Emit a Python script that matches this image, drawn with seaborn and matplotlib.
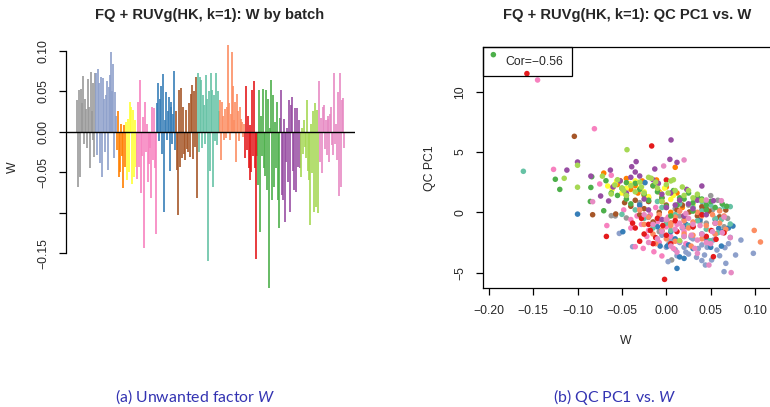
import numpy as np
import pandas as pd
import matplotlib
matplotlib.use("Agg")
import matplotlib.pyplot as plt
import seaborn as sns
from matplotlib.patches import Rectangle

sns.set_style("white")
plt.rcParams['font.family'] = ['Liberation Sans', 'DejaVu Sans']
plt.rcParams['mathtext.fontset'] = 'custom'
plt.rcParams['mathtext.rm'] = 'Lato'
plt.rcParams['mathtext.it'] = 'Lato:italic'

# ---------------- data ----------------
batches = ["B01", "B02", "B03", "B04", "B05", "B06", "B07",
           "B08", "B09", "B10", "B11", "B12", "B13", "B14"]
batch_colors = ["#999999", "#8DA0CB", "#FF7F00", "#FFFF33", "#F781BF", "#377EB8", "#A65628",
                "#66C2A5", "#FC8D62", "#E41A1C", "#4DAF4A", "#984EA3", "#A6D854", "#E78AC3"]

# W per sample, by batch (left panel)
w_b01 = [0.039, -0.068, 0.051, -0.056, 0.053, 0.035, 0.069, -0.015, 0.040, 0.028,
         -0.020, 0.065, 0.030, -0.045, 0.074, 0.025, -0.010, 0.060, -0.031, 0.072]
w_b02 = [0.072, -0.029, 0.078, 0.060, -0.039, 0.068, -0.056, 0.066, 0.040, -0.025,
         0.045, 0.062, -0.047, 0.055, 0.070, 0.098, 0.050, 0.083, -0.033, 0.049, 0.020]
w_b03 = [-0.023, 0.025, -0.056, -0.050, 0.010, -0.030, -0.070, 0.008, -0.043]
w_b04 = [0.012, -0.060, 0.016, -0.050, 0.037, 0.031, -0.064, 0.027, -0.056, 0.014, -0.043]
w_b05 = [-0.058, 0.037, -0.043, 0.064, -0.076, -0.030, 0.018, -0.144, 0.037, -0.025,
         0.010, -0.062, -0.040, -0.020, -0.082, 0.031, -0.035, 0.029, -0.045, -0.126]
w_b06 = [0.035, 0.060, -0.012, 0.040, 0.056, -0.027, 0.071, -0.099, 0.015, 0.049,
         -0.010, 0.025, 0.043, -0.049, 0.037, 0.030, -0.015, 0.022, 0.075, -0.023]
w_b07 = [0.025, -0.047, -0.103, 0.051, -0.043, 0.054, -0.033, 0.030, -0.028, -0.035, 0.027,
         -0.021, -0.025, 0.035, -0.031, 0.047, 0.058, -0.034, 0.050, -0.019, 0.068, -0.082]
w_b08 = [0.073, -0.025, 0.068, 0.064, -0.020, 0.045, 0.033, -0.015, 0.070, 0.040, -0.160,
         0.050, -0.049, 0.073, 0.052, -0.068, 0.045, -0.012, 0.072, -0.016, 0.050, 0.025]
w_b09 = [0.039, -0.035, 0.037, 0.020, -0.010, 0.028, -0.008, 0.030, 0.107, 0.035, -0.010,
         0.022, 0.099, 0.056, 0.015, 0.037, -0.037, 0.047, 0.025, -0.012, 0.031, 0.016,
         0.012, -0.006, 0.010]
w_b10 = [-0.033, 0.056, -0.022, 0.020, -0.045, -0.060, 0.008, -0.050, 0.051, -0.030,
         0.063, -0.045, -0.157, -0.030]
w_b11 = [-0.066, 0.051, -0.124, 0.020, -0.030, 0.053, -0.045, -0.055, 0.052, -0.072, 0.040,
         -0.193, 0.005, 0.064, -0.084, 0.045, -0.068, 0.012, -0.045, 0.037, -0.084, -0.119, 0.017]
w_b12 = [0.051, -0.078, -0.084, 0.016, -0.111, -0.037, 0.004, -0.062, 0.039, -0.099,
         0.033, 0.043, -0.049, -0.072, 0.029, -0.074, 0.029, -0.043, 0.014, -0.045]
w_b13 = [-0.056, 0.004, -0.027, 0.014, -0.019, -0.033, 0.039, -0.049, -0.060, -0.115,
         0.010, -0.051, 0.025, -0.099, 0.035, -0.093, 0.027, -0.101]
w_b14 = [0.062, -0.037, 0.017, -0.051, 0.031, 0.033, -0.021, 0.014, -0.029, 0.016, 0.020,
         -0.037, 0.022, 0.031, -0.016, -0.029, 0.072, -0.015, 0.010, -0.035, 0.049, -0.080,
         0.073, -0.068, 0.039, 0.041, -0.020]
w_by_batch = [w_b01, w_b02, w_b03, w_b04, w_b05, w_b06, w_b07,
              w_b08, w_b09, w_b10, w_b11, w_b12, w_b13, w_b14]

# QC PC1 vs W (right panel), by batch
sx_b01 = [-0.0575, -0.045, 0.006, 0.060, 0.069, 0.050, 0.034, -0.062, 0.020, 0.010, -0.010, 0.040, 0.028, -0.020, 0.065, 0.045,
          -0.030, 0.000, 0.015, 0.025, 0.038, 0.052, -0.008, 0.058, 0.044, 0.003]
sy_b01 = [-0.30, -0.47, -3.95, -0.36, -0.50, 1.38, 1.21, -0.28, -1.2, 0.3, -0.6, 0.2, -2.0, 0.9, -1.2, -0.9,
          0.8, 0.4, -0.3, 0.6, -0.8, 0.2, -1.6, 1.0, 0.9, -2.6]
sx_b02 = [-0.053, -0.038, 0.002, 0.025, 0.034, 0.043, 0.044, 0.051, 0.057, 0.066, 0.065, 0.067, 0.078,
          0.084, 0.098, 0.072, 0.015, 0.030, 0.040, 0.055, 0.010, 0.062, 0.020, -0.005, 0.048,
          0.005, 0.012, 0.022, 0.028, 0.036, 0.046, 0.053, 0.060, 0.070, 0.018, 0.000, 0.040]
sy_b02 = [-1.75, -2.85, -4.09, -3.46, -3.73, -3.54, -4.37, -3.95, -3.13, -2.93, -4.92, -4.23, -3.54,
          -2.30, -3.40, -2.08, -2.5, -2.2, -2.7, -1.8, -3.1, -1.6, -2.9, -1.9, -2.4,
          -2.3, -3.6, -3.3, -2.1, -3.0, -2.9, -2.3, -3.6, -2.6, -1.3, -2.9, -4.0]
sx_b03 = [-0.0705, 0.010, -0.052, -0.011, -0.027, -0.040, -0.020, -0.005, 0.005, -0.060, -0.032, 0.018,
          -0.045, -0.035, -0.015, -0.008, 0.000, 0.012, -0.025, -0.055]
sy_b03 = [3.25, 3.73, 2.62, 2.68, 2.60, 1.9, 1.2, 0.9, 0.0, 2.1, 1.6, 0.4,
          2.8, 2.2, 2.2, 1.7, 2.1, 1.6, 1.4, 2.3]
sx_b04 = [-0.061, -0.066, -0.041, -0.050, -0.006, 0.005, -0.030, -0.020, 0.015, -0.056, 0.030,
          -0.045, -0.035, -0.025, -0.012, -0.002, 0.008, -0.058]
sy_b04 = [1.9, 2.18, 2.38, 1.6, 1.57, 1.07, 2.0, 1.3, 0.8, 2.6, 0.6,
          2.0, 2.6, 1.7, 2.4, 2.0, 1.4, 2.3]
sx_b05 = [-0.145, -0.127, -0.081, -0.062, -0.075, -0.067, -0.035, -0.026, -0.014, -0.005,
          -0.020, -0.010, 0.000, 0.005, -0.030, 0.010, 0.020, -0.040, 0.015,
          -0.048, -0.040, -0.028, -0.018, -0.008, 0.002, 0.012, 0.022, -0.022, -0.012, 0.008, -0.033]
sy_b05 = [10.97, 3.56, 6.93, 3.07, 2.35, -1.1, -2.85, -2.99, -3.27, -3.62,
          -1.5, -0.8, -1.2, -2.0, 0.5, -0.3, -1.6, -0.6, -2.4,
          0.2, -1.3, -1.0, -0.2, -2.5, -0.4, -1.0, -2.6, -2.0, 0.4, -3.0, -0.3]
sx_b06 = [-0.100, -0.049, 0.012, 0.020, 0.059, 0.075, -0.024, -0.007, 0.001, 0.015, 0.030,
          0.045, -0.030, 0.050, 0.070, -0.020, 0.038, 0.064,
          -0.010, 0.005, 0.022, 0.040, 0.055, 0.010, 0.025, 0.062]
sy_b06 = [-0.15, -1.61, -4.65, -3.82, -1.33, -1.14, 2.46, -2.8, -2.8, -3.7, -3.0,
          -2.2, 0.6, -2.9, -1.3, -0.4, -0.6, -1.6,
          -1.2, -1.6, -1.0, -1.8, -0.6, -2.2, -2.7, -2.8]
sx_b07 = [-0.1036, -0.083, -0.057, 0.067, -0.047, 0.040, 0.026, -0.005, 0.010, -0.025, 0.055,
          -0.015, 0.030, 0.000, -0.035, 0.048,
          -0.040, -0.020, -0.008, 0.005, 0.018, 0.035, 0.045, 0.060, -0.030, 0.012]
sy_b07 = [6.3, -0.2, -0.14, 0.19, 0.8, 0.47, 0.03, -1.55, -0.3, 0.3, -0.9, -0.8, -1.2, 0.6, 1.0, 0.1,
          0.5, 0.9, 0.0, -0.9, 0.6, -0.3, 0.3, -0.4, -0.2, 0.2]
sx_b08 = [-0.161, -0.050, 0.072, 0.072, 0.049, 0.020, 0.040, 0.010, -0.015, 0.030, 0.060,
          0.055, 0.000, -0.025, 0.045, 0.015, 0.065,
          -0.035, -0.005, 0.005, 0.025, 0.035, 0.050, 0.062, 0.020, -0.010, 0.040, 0.058]
sy_b08 = [3.4, -0.17, 0.47, -0.97, -2.35, -0.58, 0.9, -0.2, -1.3, 0.4, 0.2, -0.5, -0.9, -0.5, -1.4, 0.7, 0.5,
          0.2, 0.4, -1.5, -1.1, -0.7, 0.6, -0.6, -2.0, 0.9, 0.1, -1.7]
sx_b09 = [0.099, 0.106, 0.067, 0.060, 0.020, -0.005, 0.030, 0.045, 0.010, -0.020, 0.040,
          0.052, -0.030, 0.000, 0.025, 0.015, 0.035, 0.055, -0.012, 0.005, 0.065,
          -0.025, -0.015, 0.000, 0.010, 0.020, 0.030, 0.040, 0.050, 0.005, 0.028, 0.060, -0.008]
sy_b09 = [-1.5, -2.46, -1.41, 0.11, -1.8, -1.5, -0.8, -1.1, -2.4, -0.4, -2.2,
          -0.2, 0.2, -0.6, -1.3, 0.1, 0.0, -1.8, -2.6, -0.9, -0.3,
          -1.0, -1.8, -2.2, -0.4, -0.7, -1.9, -0.3, -1.5, -1.1, -2.8, -0.9, -0.2]
sx_b10 = [-0.157, -0.0165, -0.0675, -0.002, 0.053, 0.056, 0.051, 0.000, -0.020, -0.025,
          -0.030, -0.015, -0.010, 0.000, -0.035, 0.065, -0.045, 0.010, -0.005, 0.040,
          -0.028, -0.018, -0.012, -0.004, 0.005, 0.020, 0.030, 0.045, -0.038, 0.012]
sy_b10 = [11.5, 5.5, -2.0, -5.56, -3.68, -2.24, -1.52, 2.68, -1.0, -1.8,
          -2.4, -2.6, -0.5, -1.9, -1.3, -1.7, 1.4, -0.7, 1.2, -0.2,
          -0.5, -1.5, -2.1, -1.1, -2.6, -0.3, -1.2, -2.0, -0.9, -1.6]
sx_b11 = [-0.1948, -0.125, -0.120, -0.0856, -0.085, -0.084, -0.0705, -0.068, -0.045, 0.063,
          -0.055, -0.030, -0.020, -0.010, 0.000, 0.015, 0.030, 0.045, 0.055, -0.040, 0.005,
          0.025, -0.062, 0.040,
          -0.050, -0.035, -0.025, -0.015, -0.005, 0.008, 0.020, 0.035, 0.050, 0.068, -0.045, 0.012, 0.045, 0.030]
sy_b11 = [13.07, 2.74, 1.9, 0.9, 2.06, 2.95, 0.13, 2.62, 2.46, 0.69,
          1.4, 1.9, 1.0, 1.7, 0.5, 1.2, 0.8, 0.2, 0.4, 0.7, -0.3, 1.6, 1.6, 1.1,
          2.0, 2.4, 1.5, 2.2, 1.2, 1.8, 1.1, 1.3, 0.9, 0.5, 1.1, 0.6, 0.6, 0.1]
sx_b12 = [-0.112, -0.100, -0.085, 0.0053, 0.004, 0.012, -0.034, -0.039, -0.013, -0.035, -0.063,
          -0.030, -0.009, 0.040, -0.074, -0.065, 0.053, 0.023, -0.045, -0.020, 0.010, 0.030, -0.005,
          -0.052, -0.040, -0.025, -0.015, -0.005, 0.005, 0.015, 0.025, 0.035, 0.045, -0.060, 0.000, 0.020]
sy_b12 = [3.5, 4.17, 3.0, 6.0, 4.39, 4.14, 4.2, 3.78, 3.59, 3.34, 3.5,
          3.01, 2.4, 2.18, 1.35, 0.94, 0.96, 1.9, 1.6, 0.2, 0.6, 0.3, -0.6,
          2.6, 2.9, 1.1, 2.7, 1.5, 1.6, 1.0, 0.7, 1.0, -0.2, 2.1, 0.4, -0.3]
sx_b13 = [-0.0443, -0.115, -0.100, -0.100, -0.072, -0.017, -0.058, -0.062, -0.050, -0.040,
          -0.030, -0.025, -0.010, 0.000, 0.010, 0.020, 0.030, -0.005, 0.015, -0.045, 0.005,
          -0.055, -0.048, -0.035, -0.020, -0.012, 0.002, 0.008, 0.018, 0.025, 0.035, -0.028, 0.040]
sy_b13 = [5.19, 2.82, 3.9, 2.08, 3.0, 2.82, 2.26, 1.52, 2.0, 2.2,
          2.5, 1.6, 2.0, 2.3, 1.8, 1.4, 1.2, 0.9, -2.35, 1.4, 2.6,
          2.7, 1.8, 1.7, 2.9, 2.5, 1.6, 2.7, 2.1, 1.8, 1.5, 2.1, 1.0]
sx_b14 = [0.020, -0.003, -0.083, 0.048, 0.073, 0.063, 0.032, 0.062, 0.045, 0.072, 0.030,
          0.020, 0.010, 0.040, 0.025, 0.050, 0.035, -0.010, 0.015, 0.055, -0.025,
          -0.015, -0.005, 0.005, 0.018, 0.028, 0.038, 0.052, 0.065, 0.012, 0.022, 0.035, 0.045, 0.000, -0.020]
sy_b14 = [4.34, 3.84, 0.88, -4.37, -5.0, -1.69, -2.99, 0.96, 1.02, -2.1, -1.0,
          -2.0, -1.4, -1.8, -0.5, -2.6, -2.3, -2.2, -0.9, -0.9, -0.2,
          -1.0, -1.6, -2.8, -1.2, -1.9, -1.1, -1.6, -0.4, -3.3, -0.1, -3.4, -2.5, -0.6, -2.5]
sx_by_batch = [sx_b01, sx_b02, sx_b03, sx_b04, sx_b05, sx_b06, sx_b07,
               sx_b08, sx_b09, sx_b10, sx_b11, sx_b12, sx_b13, sx_b14]
sy_by_batch = [sy_b01, sy_b02, sy_b03, sy_b04, sy_b05, sy_b06, sy_b07,
               sy_b08, sy_b09, sy_b10, sy_b11, sy_b12, sy_b13, sy_b14]

w_ticks = [-0.15, -0.10, -0.05, 0.00, 0.05, 0.10]
w_tick_labels = ["\u22120.15", "", "\u22120.05", "0.00", "0.05", "0.10"]
x_ticks_r = [-0.20, -0.15, -0.10, -0.05, 0.00, 0.05, 0.10]
y_ticks_r = [-5, 0, 5, 10]
cor_label = "Cor=\u22120.56"

# ---------------- frames ----------------
df_w = pd.DataFrame({
    "batch": np.concatenate([[b] * len(v) for b, v in zip(batches, w_by_batch)]),
    "W": np.concatenate(w_by_batch),
})
df_w["idx"] = np.arange(len(df_w))
pal = dict(zip(batches, batch_colors))
df_w["color"] = df_w["batch"].map(pal)

df_s = pd.DataFrame({
    "batch": np.concatenate([[b] * len(v) for b, v in zip(batches, sx_by_batch)]),
    "W": np.concatenate(sx_by_batch),
    "PC1": np.concatenate(sy_by_batch),
})

W_PX, H_PX = 770, 407
fig = plt.figure(figsize=(W_PX / 100, H_PX / 100), dpi=100)


def px_axes(l, t, r, b):
    return fig.add_axes([l / W_PX, 1 - b / H_PX, (r - l) / W_PX, (b - t) / H_PX])


def fmt(v, nd):
    return f"{v:.{nd}f}".replace("-", "\u2212")


TICK_FS = 8.8
# ---------------- left panel ----------------
axL = px_axes(66, 35, 355, 291)
axL.vlines(df_w["idx"], 0, df_w["W"], colors=df_w["color"], linewidth=1.2)
axL.axhline(0, color="black", linewidth=1.0)
N = len(df_w)
axL.set_xlim(-0.04 * (N - 1), 1.04 * (N - 1))
axL.set_ylim(-0.1967, 0.1194)
for s in ["top", "right", "bottom"]:
    axL.spines[s].set_visible(False)
axL.spines["left"].set_bounds(-0.15, 0.10)
axL.spines["left"].set_linewidth(0.9)
axL.spines["left"].set_color("black")
axL.set_xticks([])
axL.set_yticks(w_ticks)
axL.set_yticklabels(w_tick_labels)
axL.tick_params(axis="y", left=True, length=5, width=0.9, pad=7, labelsize=TICK_FS,
                labelrotation=90, color="black")
for lab in axL.get_yticklabels():
    lab.set_va("center")
axL.set_facecolor("none")

# ---------------- right panel ----------------
axR = px_axes(482.7, 46.7, 772, 288.3)
sns.scatterplot(data=df_s, x="W", y="PC1", hue="batch", hue_order=batches, palette=pal,
                s=16, linewidth=0, legend=False, ax=axR, zorder=3)
axR.set_xlim(-0.2068, 0.119)
axR.set_ylim(-6.30, 13.73)
for s in axR.spines.values():
    s.set_visible(True)
    s.set_linewidth(0.9)
    s.set_color("black")
axR.set_xticks(x_ticks_r)
axR.set_xticklabels([fmt(v, 2) for v in x_ticks_r])
axR.set_yticks(y_ticks_r)
axR.set_yticklabels([fmt(v, 0) for v in y_ticks_r])
axR.tick_params(axis="x", bottom=True, length=5, width=0.9, pad=7, labelsize=TICK_FS, color="black")
axR.tick_params(axis="y", left=True, length=5, width=0.9, pad=7, labelsize=TICK_FS,
                labelrotation=90, color="black")
for lab in axR.get_yticklabels():
    lab.set_va("center")
axR.set_xlabel("")
axR.set_ylabel("")

# legend box
fig.add_artist(Rectangle((483 / W_PX, 1 - 76 / H_PX), (571.7 - 483) / W_PX, (76 - 46.7) / H_PX,
                         transform=fig.transFigure, fill=False, edgecolor="black", linewidth=0.9))
fig.text(505.5 / W_PX, 1 - 62 / H_PX, cor_label, ha="left", va="center", fontsize=8.8)

# ---------------- texts ----------------
fig.text(210 / W_PX, 1 - 15 / H_PX, "FQ + RUVg(HK, k=1): W by batch",
         ha="center", va="center", fontsize=10.6, fontweight="bold")
fig.text(627 / W_PX, 1 - 15 / H_PX, "FQ + RUVg(HK, k=1): QC PC1 vs. W",
         ha="center", va="center", fontsize=10.6, fontweight="bold")
fig.text(13 / W_PX, 1 - 167 / H_PX, "W", rotation=90, ha="center", va="center", fontsize=TICK_FS)
fig.text(430 / W_PX, 1 - 168 / H_PX, "QC PC1", rotation=90, ha="center", va="center", fontsize=TICK_FS)
fig.text(626 / W_PX, 1 - 341 / H_PX, "W", ha="center", va="center", fontsize=TICK_FS)

cap_color = "#3333B2"
fig.text(195 / W_PX, 1 - 397 / H_PX, "(a) Unwanted factor $W$", ha="center", va="center",
         fontsize=11.4, color=cap_color, family="Lato")
fig.text(614 / W_PX, 1 - 397 / H_PX, "(b) QC PC1 vs. $W$", ha="center", va="center",
         fontsize=11.4, color=cap_color, family="Lato")

fig.savefig("out.png", dpi=100)
